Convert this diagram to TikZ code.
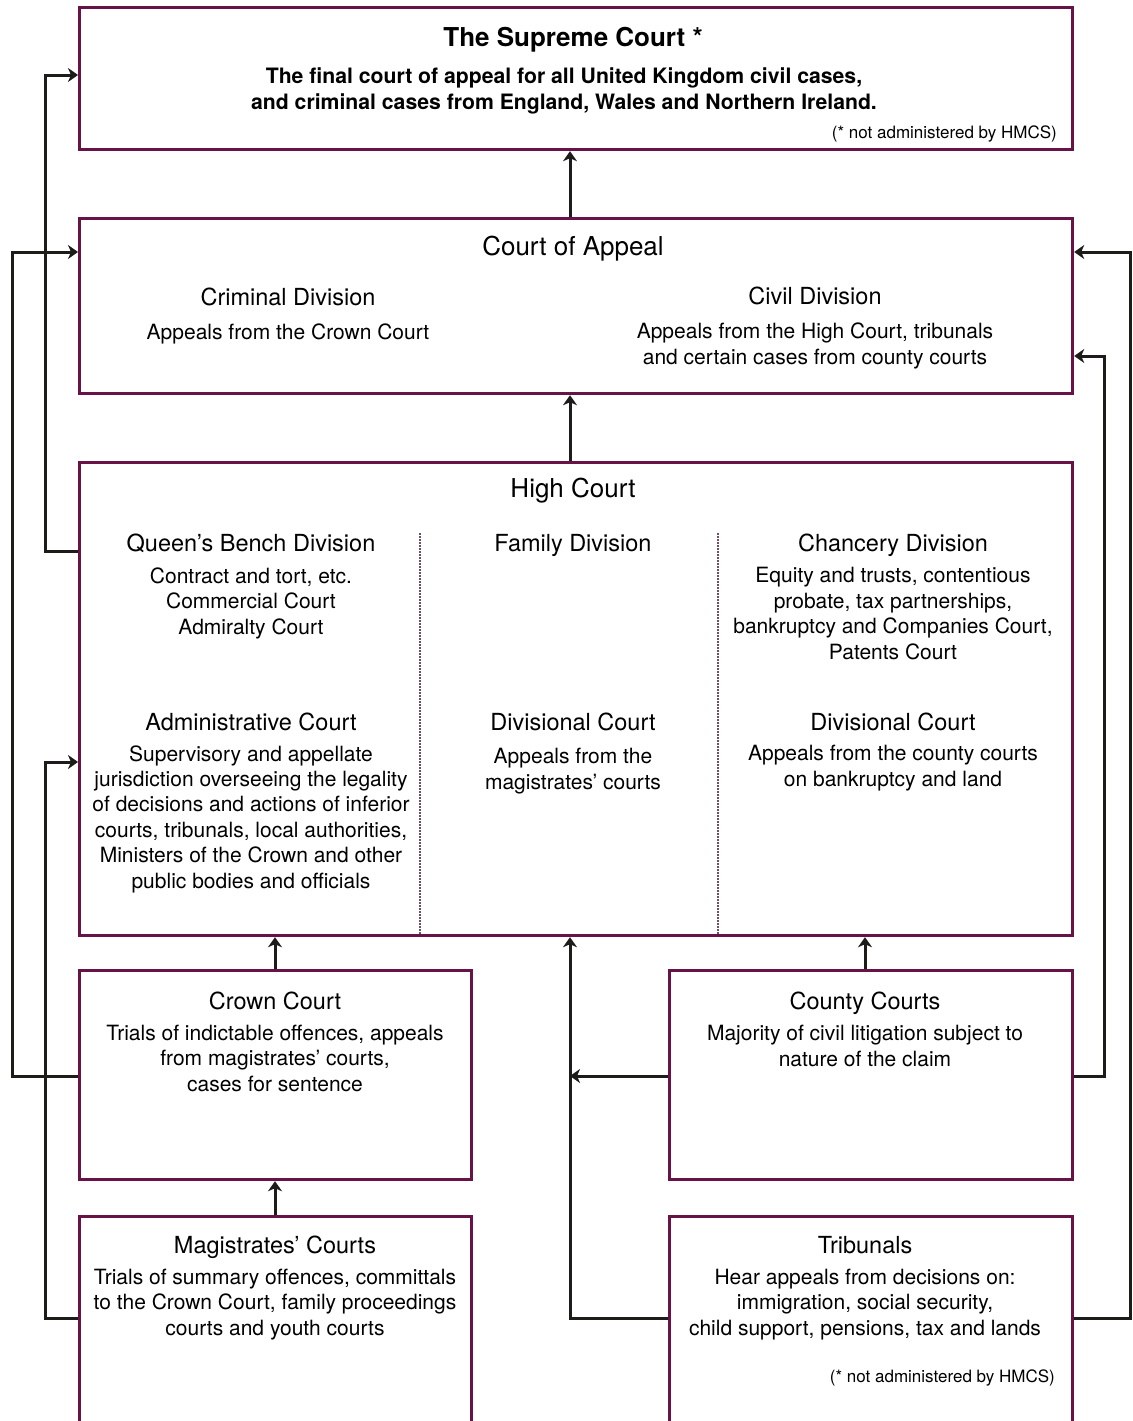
\documentclass[tikz,border=0pt]{standalone}
\usepackage{fontspec}
\setmainfont{TeX Gyre Heros}
\usetikzlibrary{arrows.meta}
\definecolor{boxc}{RGB}{104,18,72}
\definecolor{linec}{RGB}{30,28,24}
\definecolor{sepc}{RGB}{110,80,100}
\begin{document}
\begin{tikzpicture}[x=1pt,y=-1pt,
  box/.style={draw=boxc, line width=3.2pt, rectangle, inner sep=0pt, anchor=north west, fill=white},
  conn/.style={draw=linec, line width=3pt, -{Stealth[length=10pt,width=14pt,inset=3pt]}},
  ttl/.style={font=\fontsize{26}{30}\selectfont, anchor=base, inner sep=0pt},
  sub/.style={font=\fontsize{23.5}{28}\selectfont, anchor=base, inner sep=0pt},
  txt/.style={font=\fontsize{21}{25.4}\selectfont, align=center, anchor=base, inner sep=0pt},
  note/.style={font=\fontsize{17}{20}\selectfont, anchor=base east, inner sep=0pt},
  sepline/.style={draw=sepc, line width=2.5pt, dash pattern=on 1.5pt off 1.5pt}]
\useasboundingbox (0,0) rectangle (1132,1421);
\clip (0,0) rectangle (1132,1421);
\fill[white] (0,0) rectangle (1132,1421);

% boxes
\node[box, minimum width=993, minimum height=142] (sup) at (78,6) {};
\node[box, minimum width=993, minimum height=175] (coa) at (78,217) {};
\node[box, minimum width=993, minimum height=473] (hc) at (78,461) {};
\node[box, minimum width=392, minimum height=209] (crown) at (78,969) {};
\node[box, minimum width=403, minimum height=209] (county) at (668,969) {};
\node[box, minimum width=392, minimum height=260] (mag) at (78,1215) {};
\node[box, minimum width=403, minimum height=260] (trib) at (668,1215) {};

\coordinate (mid) at (570,0);

% separators in High Court
\draw[sepline] (420,533) -- (420,934);
\draw[sepline] (718,533) -- (718,934);

% (multi-line text nodes are placed by the baseline of their last line)
% Supreme Court text
\node[ttl, font=\fontsize{26}{30}\selectfont\bfseries] (supT) at (573,47) {The Supreme Court *};
\node[txt, font=\fontsize{21.2}{26}\selectfont\bfseries] (supB) at (564,109) {The final court of appeal for all United Kingdom civil cases,\\and criminal cases from England, Wales and Northern Ireland.};
\node[note] (supN) at (1057,138) {(* not administered by HMCS)};

% Court of Appeal
\node[ttl] (coaT) at (573,255) {Court of Appeal};
\node[sub] (crimT) at (288,305) {Criminal Division};
\node[txt] (crimB) at (288,339) {Appeals from the Crown Court};
\node[sub] (civT) at (815,304) {Civil Division};
\node[txt] (civB) at (815,364) {Appeals from the High Court, tribunals\\and certain cases from county courts};

% High Court
\node[ttl] (hcT) at (573,497) {High Court};
\node[sub] (qbT) at (251,551) {Queen’s Bench Division};
\node[txt] (qbB) at (251,634) {Contract and tort, etc.\\Commercial Court\\Admiralty Court};
\node[sub] (famT) at (573,551) {Family Division};
\node[sub] (chT) at (893,551) {Chancery Division};
\node[txt] (chB) at (893,659) {Equity and trusts, contentious\\probate, tax partnerships,\\bankruptcy and Companies Court,\\Patents Court};
\node[sub] (admT) at (251,730) {Administrative Court};
\node[txt] (admB) at (251,888) {Supervisory and appellate\\jurisdiction overseeing the legality\\of decisions and actions of inferior\\courts, tribunals, local authorities,\\Ministers of the Crown and other\\public bodies and officials};
\node[sub] (dmT) at (573,730) {Divisional Court};
\node[txt] (dmB) at (573,789) {Appeals from the\\magistrates’ courts};
\node[sub] (drT) at (893,730) {Divisional Court};
\node[txt] (drB) at (893,786) {Appeals from the county courts\\on bankruptcy and land};

% Crown Court
\node[sub] (crT) at (275,1009) {Crown Court};
\node[txt] (crB) at (275,1091) {Trials of indictable offences, appeals\\from magistrates’ courts,\\cases for sentence};

% County Courts
\node[sub] (cyT) at (865,1009) {County Courts};
\node[txt] (cyB) at (865,1066) {Majority of civil litigation subject to\\nature of the claim};

% Magistrates
\node[sub] (mgT) at (275,1253) {Magistrates’ Courts};
\node[txt] (mgB) at (275,1335) {Trials of summary offences, committals\\to the Crown Court, family proceedings\\courts and youth courts};

% Tribunals
\node[sub] (trT) at (865,1253) {Tribunals};
\node[txt] (trB) at (865,1335) {Hear appeals from decisions on:\\immigration, social security,\\child support, pensions, tax and lands};
\node[note] (trN) at (1055,1382) {(* not administered by HMCS)};

% connectors
\draw[conn] (coa.north -| mid) -- (sup.south -| mid);
\draw[conn] (hc.north -| mid) -- (coa.south -| mid);
\draw[conn] (crown.north -| 275,0) -- (hc.south -| 275,0);
\draw[conn] (mag.north -| 275,0) -- (crown.south -| 275,0);
\draw[conn] (county.north -| 865,0) -- (hc.south -| 865,0);
\draw[conn] (crown.west |- 0,1076) -| (12,252) -- (coa.west |- 0,252);
\draw[conn] (hc.west |- 0,551) -| (45,75) -- (sup.west |- 0,75);
\draw[conn] (mag.west |- 0,1318) -| (45,762) -- (hc.west |- 0,762);
\draw[conn] (trib.west |- 0,1318) -| (hc.south -| mid);
\draw[conn] (county.west |- 0,1076) -- (mid |- 0,1076);
\draw[conn] (county.east |- 0,1076) -| (1104,356) -- (coa.east |- 0,356);
\draw[conn] (trib.east |- 0,1318) -| (1130,252) -- (coa.east |- 0,252);
\end{tikzpicture}
\end{document}
